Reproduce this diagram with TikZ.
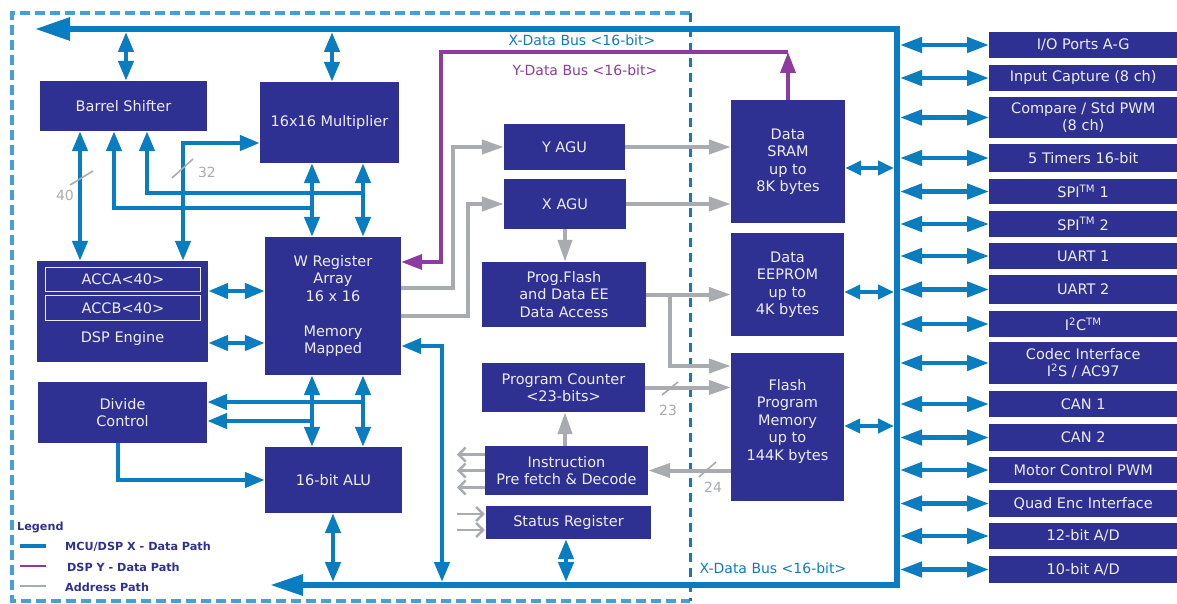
\documentclass[tikz,border=0pt]{standalone}
\usepackage{fontspec}
\setmainfont{DejaVu Sans}
\usetikzlibrary{arrows.meta,calc}
\definecolor{boxc}{RGB}{46,49,146}
\definecolor{bluec}{RGB}{10,124,192}
\definecolor{purc}{RGB}{142,58,160}
\definecolor{grayc}{RGB}{168,171,175}
\definecolor{dashc}{RGB}{70,160,215}
\definecolor{dashd}{RGB}{20,120,190}
\definecolor{txtc}{RGB}{236,236,246}
\tikzset{
 blk/.style={fill=boxc, text=txtc, align=center, inner sep=0pt, font=\fontsize{14.5}{17.5}\selectfont},
 per/.style={blk, anchor=west, minimum width=188pt},
 bl/.style={draw=bluec, line width=4.5pt},
 bb/.style={bl, {Triangle[length=20pt,width=15pt]}-{Triangle[length=20pt,width=15pt]}},
 bbs/.style={bl, {Triangle[length=16pt,width=14pt]}-{Triangle[length=16pt,width=14pt]}},
 pb/.style={bl, {Triangle[length=22pt,width=15pt]}-{Triangle[length=22pt,width=15pt]}},
 ba/.style={bl, -{Triangle[length=20pt,width=15pt]}},
 gl/.style={draw=grayc, line width=4pt, -{Triangle[length=22pt,width=14pt]}},
 pl/.style={draw=purc, line width=3.5pt, -{Triangle[length=21pt,width=15pt]}},
 busline/.style={draw=bluec, line width=6pt, {Triangle[length=35pt,width=22pt]}-{Triangle[length=33pt,width=20pt]}},
 chev/.style={draw=grayc, line width=2.5pt, -{Straight Barb[length=7pt,width=14pt]}},
 slash/.style={draw=grayc, line width=1.6pt},
 num/.style={text=grayc, inner sep=0pt, font=\fontsize{14}{16}\selectfont},
 buslab/.style={inner sep=0pt, font=\fontsize{14}{16}\selectfont},
 leg/.style={text=boxc, inner sep=0pt, anchor=west, font=\fontsize{11.2}{13}\selectfont\bfseries},
}
\begin{document}
\begin{tikzpicture}[x=1pt,y=-1pt]
\useasboundingbox (0,0) rectangle (1177,604);
% dashed boundary
\draw[dashc, line width=3.5pt, dash pattern=on 10pt off 5pt] (690,13) -- (12,13) -- (12,601) -- (690,601);
\draw[dashd, line width=3pt, dash pattern=on 9pt off 6pt] (690,13) -- (690,601);

% blocks
\node[blk, minimum width=167pt, minimum height=50pt] (bs) at (123.5,106) {Barrel Shifter};
\node[blk, minimum width=139pt, minimum height=81pt] (mul) at (329.5,122.5) {16x16 Multiplier};
\node[blk, minimum width=136pt, minimum height=138pt] (wreg) at (333,306) {W Register\\Array\\16 x 16\\[17.5pt]Memory\\Mapped};
\node[blk, minimum width=171pt, minimum height=101pt] (dsp) at (122.5,311.5) {};
\node[blk, draw=txtc, line width=1.5pt, minimum width=155pt, minimum height=24pt] (acca) at (123,279.5) {ACCA<40>};
\node[blk, draw=txtc, line width=1.5pt, minimum width=155pt, minimum height=25pt] (accb) at (123,308) {ACCB<40>};
\node[blk, fill=none] (dspl) at (122.5,338) {DSP Engine};
\node[blk, minimum width=169pt, minimum height=61pt] (div) at (122.5,412.5) {Divide\\Control};
\node[blk, minimum width=137pt, minimum height=66pt] (alu) at (333.5,480) {16-bit ALU};
\node[blk, minimum width=121pt, minimum height=46pt] (yagu) at (564.5,147) {Y AGU};
\node[blk, minimum width=122pt, minimum height=50pt] (xagu) at (565,204) {X AGU};
\node[blk, minimum width=164pt, minimum height=65pt] (pfa) at (564,294.5) {Prog.Flash\\and Data EE\\Data Access};
\node[blk, minimum width=163pt, minimum height=49pt] (pc) at (563.5,387.5) {Program Counter\\<23-bits>};
\node[blk, minimum width=163pt, minimum height=49pt] (ipd) at (566.5,470.5) {Instruction\\Pre fetch \& Decode};
\node[blk, minimum width=165pt, minimum height=33pt] (sr) at (568.5,522.5) {Status Register};
\node[blk, minimum width=114pt, minimum height=123pt] (sram) at (788,161.5) {Data\\SRAM\\up to\\8K bytes};
\node[blk, minimum width=113pt, minimum height=103pt] (eeprom) at (787.5,284.5) {Data\\EEPROM\\up to\\4K bytes};
\node[blk, minimum width=113pt, minimum height=148pt] (flash) at (787.5,427) {};
\node[blk, fill=none] (flasht) at (787.5,421) {Flash\\Program\\Memory\\up to\\144K bytes};

% peripherals
\node[per, minimum height=26pt] (io) at (989,45) {I/O Ports A-G};
\node[per, minimum height=26pt] (ic) at (989,78) {Input Capture (8 ch)};
\node[per, minimum height=41pt] (cmp) at (989,117.5) {Compare / Std PWM\\(8 ch)};
\node[per, minimum height=28pt] (tim) at (989,158) {5 Timers 16-bit};
\node[per, minimum height=25pt] (spia) at (989,191.5) {SPI\textsuperscript{TM} 1};
\node[per, minimum height=26pt] (spib) at (989,224) {SPI\textsuperscript{TM} 2};
\node[per, minimum height=26pt] (uarta) at (989,256) {UART 1};
\node[per, minimum height=29pt] (uartb) at (989,289.5) {UART 2};
\node[per, minimum height=26pt] (iic) at (989,324) {I\textsuperscript{2}C\textsuperscript{TM}};
\node[per, minimum height=42pt] (codec) at (989,363) {Codec Interface\\I\textsuperscript{2}S / AC97};
\node[per, minimum height=26pt] (cana) at (989,404) {CAN 1};
\node[per, minimum height=27pt] (canb) at (989,437.5) {CAN 2};
\node[per, minimum height=26pt] (mpwm) at (989,470) {Motor Control PWM};
\node[per, minimum height=27pt] (qei) at (989,503.5) {Quad Enc Interface};
\node[per, minimum height=26pt] (ada) at (989,536) {12-bit A/D};
\node[per, minimum height=27pt] (adb) at (989,569.5) {10-bit A/D};

% helper coordinates
\coordinate (bTL) at (35,29);
\coordinate (bTR) at (897,29);
\coordinate (bBR) at (897,585);
\coordinate (bBL) at (270,585);
\foreach \c in {80,114,118,126,147,183,312,332,333,363,442,453,468,565,566,670}
  {\coordinate (x\c) at (\c,0);}
\foreach \r in {143,168,193,204,208,262,288,291,292,316,343,346,366,402,421,426}
  {\coordinate (y\r) at (0,\r);}
\coordinate (ybA) at (441,52);
\coordinate (ybB) at (788,52);

% X data bus
\draw[busline] (bTL) -- (bTR) -- (bBR) -- (bBL);

% blue data paths
\draw[bb, shorten <=3pt] (x126 |- bTL) -- (x126 |- bs.north);
\draw[bb, shorten <=3pt] (x332 |- bTL) -- (x332 |- mul.north);
\draw[bb] (x80 |- bs.south) -- (x80 |- dsp.north);
\draw[ba] (x312 |- y208) -- (x114 |- y208) -- (x114 |- bs.south);
\draw[ba] (x363 |- y193) -- (x147 |- y193) -- (x147 |- bs.south);
\draw[bb] (x183 |- dsp.north) -- (x183 |- y143) -- (mul.west |- y143);
\draw[bb] (x312 |- mul.south) -- (x312 |- wreg.north);
\draw[bb] (x363 |- mul.south) -- (x363 |- wreg.north);
\draw[bb] (x312 |- wreg.south) -- (x312 |- alu.north);
\draw[bb] (x363 |- wreg.south) -- (x363 |- alu.north);
\draw[ba] (x363 |- y402) -- (div.east |- y402);
\draw[ba] (x312 |- y421) -- (div.east |- y421);
\draw[ba] (x118 |- div.south) -- (x118 |- alu.west) -- (alu.west);
\draw[bb, shorten >=3pt] (x333 |- alu.south) -- (x333 |- bBL);
\draw[bb] (dsp.east |- y291) -- (wreg.west |- y291);
\draw[bb] (dsp.east |- y343) -- (wreg.west |- y343);
\draw[bb, shorten <=3pt] (x442 |- bBL) -- (x442 |- y346) -- (wreg.east |- y346);
\draw[bb, shorten >=3pt] (x566 |- sr.south) -- (x566 |- bBL);
\draw[bbs, shorten >=3pt] (sram.east |- y168) -- (bTR |- y168);
\draw[bbs, shorten >=3pt] (eeprom.east |- y292) -- (bTR |- y292);
\draw[bbs, shorten >=3pt] (flash.east |- y426) -- (bTR |- y426);
\foreach \p in {io,ic,cmp,tim,spia,spib,uarta,uartb,iic,codec,cana,canb,mpwm,qei,ada,adb}
  {\draw[pb, shorten <=3pt] (bTR |- \p.west) -- (\p.west);}

% Y data bus
\draw[pl] (sram.north) -- (ybB);
\draw[pl] (ybB) -- (ybA) -- (ybA |- y262) -- (wreg.east |- y262);

% address paths
\draw[gl] (wreg.east |- y288) -- (x453 |- y288) -- (x453 |- yagu.west) -- (yagu.west);
\draw[gl] (wreg.east |- y316) -- (x468 |- y316) -- (x468 |- y204) -- (xagu.west |- y204);
\draw[gl] (yagu.east) -- (sram.west |- yagu.east);
\draw[gl] (xagu.east) -- (sram.west |- xagu.east);
\draw[gl] (xagu.south) -- (xagu.south |- pfa.north);
\draw[gl] (pfa.east) -- (eeprom.west |- pfa.east);
\draw[gl] (x670 |- pfa.east) -- (x670 |- y366) -- (flash.west |- y366);
\draw[gl] (pc.east) -- (flash.west |- pc.east);
\draw[gl] (flash.west |- ipd.east) -- (ipd.east);
\draw[gl] (x565 |- ipd.north) -- (x565 |- pc.south);
\foreach \dy in {-16,0,17}
  {\draw[chev] ($(ipd.west)+(0,\dy)$) -- ++(-28,0);}
\foreach \dy in {-8.5,7.5}
  {\draw[chev] ($(sr.west)+(-29,\dy)$) -- ++(28,0);}

% width slashes and labels
\draw[slash] (70,185) -- (93,171);
\draw[slash] (172,178) -- (193,159);
\draw[slash] (662,395) -- (678,382);
\draw[slash] (699,477) -- (716,462);
\node[num] (n40) at (65,195) {40};
\node[num] (n32) at (207,172) {32};
\node[num] (n23) at (668,410) {23};
\node[num] (n24) at (713,487) {24};

% bus labels
\node[buslab, text=bluec] (xl1) at (582,40) {X-Data Bus <16-bit>};
\node[buslab, text=purc] (yl) at (585,70) {Y-Data Bus <16-bit>};
\node[buslab, text=bluec] (xl2) at (773,568) {X-Data Bus <16-bit>};

% legend
\node[leg] (legt) at (17,527) {Legend};
\coordinate (lgA1) at (20,546); \coordinate (lgA2) at (46,546);
\coordinate (lgB1) at (20,566); \coordinate (lgB2) at (46,566);
\coordinate (lgC1) at (20,586); \coordinate (lgC2) at (46,586);
\draw[bluec, line width=3.5pt] (lgA1) -- (lgA2);
\draw[purc, line width=2pt] (lgB1) -- (lgB2);
\draw[grayc, line width=2.5pt] (lgC1) -- (lgC2);
\node[leg] (lg1) at (65,547) {MCU/DSP X - Data Path};
\node[leg] (lg2) at (67,567) {DSP Y - Data Path};
\node[leg] (lg3) at (65,587) {Address Path};
\end{tikzpicture}
\end{document}
